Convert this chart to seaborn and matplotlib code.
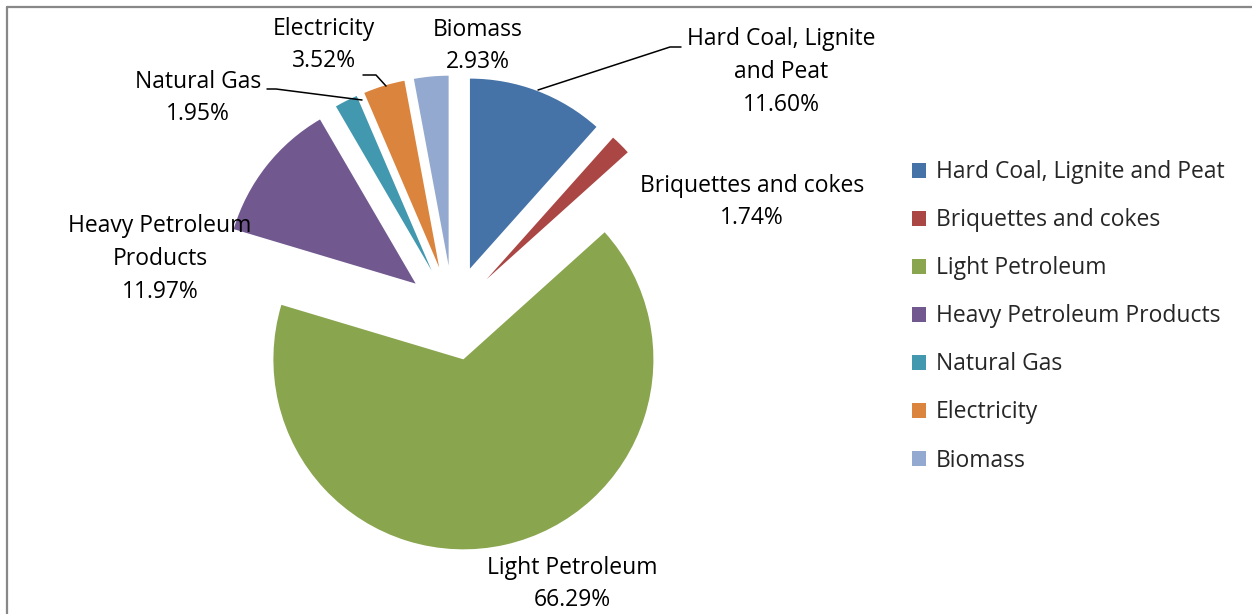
import matplotlib
matplotlib.use("Agg")
import matplotlib.pyplot as plt
import seaborn as sns
from matplotlib.lines import Line2D

# --- data ---
categories = ["Hard Coal, Lignite and Peat", "Briquettes and cokes", "Light Petroleum",
              "Heavy Petroleum Products", "Natural Gas", "Electricity", "Biomass"]
shares = [11.60, 1.74, 66.29, 11.97, 1.95, 3.52, 2.93]
slice_labels = ["Hard Coal, Lignite\nand Peat", "Briquettes and cokes", "Light Petroleum",
                "Heavy Petroleum\nProducts", "Natural Gas", "Electricity", "Biomass"]

sns.set_style("white")
plt.rcParams['font.family'] = ['Open Sans', 'DejaVu Sans']

colors = sns.color_palette(["#4572A7", "#AA4643", "#89A54E", "#71588F",
                            "#4198AF", "#DB843D", "#93A9CF"])

W, H = 1252, 614
fig = plt.figure(figsize=(W / 100, H / 100), dpi=100, facecolor="white")
ax = fig.add_axes([0, 0, 1, 1])

# pie centre / radius in pixels (measured on the reference)
cx, cy, R = 453, 313, 190


def px(x, y):
    # pixel position (from top-left) -> data units of the pie
    return (x - cx) / R, ((H - y) - (H - cy)) / R


wedges, _ = ax.pie(shares, explode=[0.25] * len(shares), startangle=90,
                   counterclock=False, colors=colors, radius=1,
                   wedgeprops=dict(linewidth=0))
ax.set_xlim(-cx / R, (W - cx) / R)
ax.set_ylim(-(H - cy) / R, cy / R)
ax.set_aspect("equal")
ax.axis("off")

FS = 16.5

# --- data labels ---
label_pos = [(781, 72), (752, 202), (572, 584), (160, 259), (198, 98), (324, 45), (478, 46)]
for lab, val, (x, y) in zip(slice_labels, shares, label_pos):
    ax.text(*px(x, y), f"{lab}\n{val:.2f}%", ha="center", va="center",
            fontsize=FS, linespacing=1.48, color="black")

# leader lines
leaders = [
    [(538, 90), (670, 47), (681, 47)],
    [(362, 100), (276, 89), (267, 89)],
    [(386, 86), (376, 75), (363, 75)],
]
for pts in leaders:
    xs, ys = zip(*[px(x, y) for x, y in pts])
    ax.plot(xs, ys, color="black", lw=1.1)

# --- legend ---
leg = ax.legend(wedges, categories, loc="upper left",
                bbox_to_anchor=(903 / W, 1 - 151 / H), bbox_transform=fig.transFigure,
                frameon=False, fontsize=FS, handlelength=0.62, handleheight=0.62,
                handletextpad=0.4, labelspacing=1.05, borderaxespad=0)

# chart border (top and left only visible)
fig.add_artist(Line2D([7 / W, 7 / W], [0, 1 - 7 / H], color="#888888", lw=1.6,
                      transform=fig.transFigure))
fig.add_artist(Line2D([7 / W, 1], [1 - 7 / H, 1 - 7 / H], color="#888888", lw=1.6,
                      transform=fig.transFigure))

plt.savefig("out.png", dpi=100, facecolor="white")
plt.close()
